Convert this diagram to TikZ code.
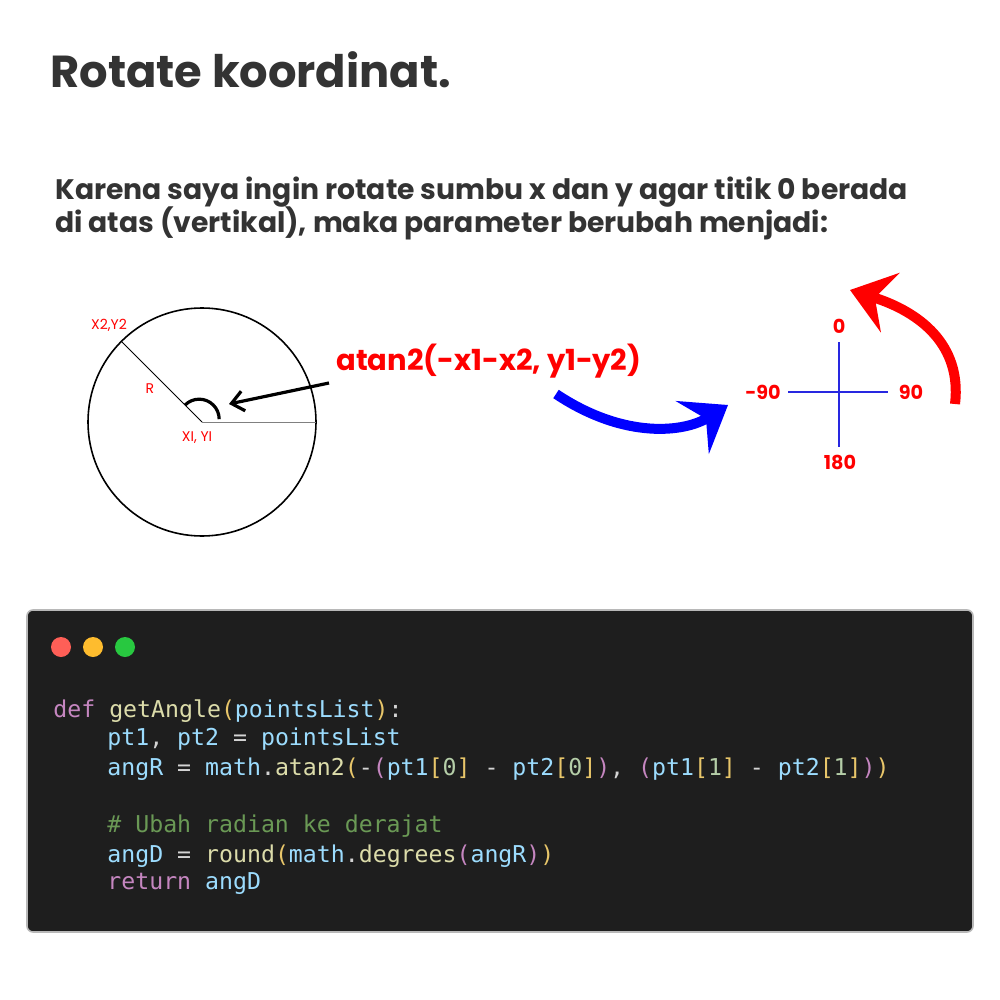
\documentclass[tikz,border=0pt]{standalone}
\usepackage{fontspec}
\setmainfont{Poppins}
\setmonofont{DejaVu Sans Mono}
\usetikzlibrary{positioning}
\usetikzlibrary{arrows.meta}
\usetikzlibrary{calc}

\definecolor{inkgrey}{HTML}{333333}
\definecolor{codebg}{HTML}{1E1E1E}
\definecolor{codeframe}{HTML}{B8B8B8}
\definecolor{dotred}{HTML}{FF5F57}
\definecolor{dotyellow}{HTML}{FEBC2E}
\definecolor{dotgreen}{HTML}{28C840}
\definecolor{kwpink}{HTML}{C586C0}
\definecolor{fnyellow}{HTML}{DCDCAA}
\definecolor{brgold}{HTML}{E8C66A}
\definecolor{varblue}{HTML}{9CDCFE}
\definecolor{numgreen}{HTML}{B5CEA8}
\definecolor{comgreen}{HTML}{6A9955}
\definecolor{opwhite}{HTML}{D4D4D4}
\definecolor{axisblue}{HTML}{2828E0}

% colour helpers for the code listing
\newcommand{\ckw}[1]{\textcolor{kwpink}{#1}}
\newcommand{\cfn}[1]{\textcolor{fnyellow}{#1}}
\newcommand{\cbr}[1]{\textcolor{brgold}{#1}}
\newcommand{\cvar}[1]{\textcolor{varblue}{#1}}
\newcommand{\cnum}[1]{\textcolor{numgreen}{#1}}
\newcommand{\ccom}[1]{\textcolor{comgreen}{#1}}
\newcommand{\cop}[1]{\textcolor{opwhite}{#1}}

\begin{document}
\begin{tikzpicture}[x=0.5pt, y=-0.5pt,
        % Text styles
        heading/.style={font=\fontsize{22.4}{26}\selectfont\bfseries, text=inkgrey, anchor=base west, inner sep=0pt},
        subline/.style={font=\fontsize{14.1}{17}\selectfont\bfseries, text=inkgrey, anchor=base west, inner sep=0pt},
        redlabel/.style={font=\fontsize{7}{8}\selectfont, text=red, inner sep=0pt},
        axislabel/.style={font=\fontsize{9.6}{12}\selectfont\bfseries, text=red, inner sep=0pt},
        formula/.style={font=\fontsize{14.5}{17}\selectfont\bfseries, text=red, anchor=base west, inner sep=0pt},
        codeline/.style={font=\fontsize{11.6}{14}\ttfamily, text=opwhite, anchor=base west, inner sep=0pt},
        % Window dots
        windot/.style={circle, minimum size=10pt, inner sep=0pt},
        % Thick curved arrows
        bigarrow/.style={line width=5pt, -{Stealth[length=21pt, width=31pt, inset=8pt]}}
    ]
    \useasboundingbox[fill=white] (0,0) rectangle (1000,1000);

    % --- Title ---
    \node[heading] (title) at (50,88) {Rotate koordinat.};

    % --- Explanation ---
    \node[subline] (sub1) at (55,199) {Karena saya ingin rotate sumbu x dan y agar titik 0 berada};
    \node[subline] (sub2) at (55,233) {di atas (vertikal), maka parameter berubah menjadi:};

    % --- Circle with radius and angle ---
    \coordinate (ctr) at (202,422);
    \coordinate (rimright) at (316,422);
    \coordinate (rimpt) at ($(ctr)+(225:114)$);
    \draw[line width=0.8pt] (ctr) circle[radius=114];
    \draw[gray, line width=0.5pt] (ctr) -- (rimright);
    \draw[line width=0.4pt] (ctr) -- (rimpt);
    \draw[line width=1.6pt] ($(ctr)+(225:24)$) arc[start angle=225, end angle=360, radius=20];
    \coordinate (angletip) at (229,404);

    \node[redlabel] (p2lbl) at (109,325) {X2,Y2};
    \node[redlabel] (rlbl) at (150,389) {R};
    \node[redlabel] (p1lbl) at (197,438) {XI, YI};

    % --- Formula and pointer ---
    \node[formula] (atanlbl) at (336,370) {atan2(-x1-x2, y1\textminus y2)};
    \coordinate (pointtail) at (329,383);
    \draw[line width=1.6pt, -{Straight Barb[length=6pt, width=10pt]}] (pointtail) -- (angletip);

    % --- Blue arrow ---
    \coordinate (bluestart) at (556,394);
    \coordinate (blueend) at (728,405);
    \draw[blue, bigarrow] (bluestart) .. controls (625,440) and (685,432) .. (blueend);

    % --- Rotated axes ---
    \coordinate (axisO) at (839,392);
    \draw[axisblue, line width=1pt] (839,342) -- (839,447);
    \draw[axisblue, line width=1pt] (788,392) -- (888,392);
    \node[axislabel] (top0) at (839,326) {0};
    \node[axislabel] (leftneg) at (763,392) {-90};
    \node[axislabel] (rightpos) at (911,392) {90};
    \node[axislabel] (bottom180) at (840,462) {180};

    % --- Red arrow ---
    \coordinate (redstart) at (955,404);
    \coordinate (redend) at (850,290);
    \draw[red, bigarrow] (redstart) .. controls (962,345) and (920,312) .. (redend);

    % --- Code window ---
    \draw[codeframe, fill=codebg, line width=0.8pt, rounded corners=3pt] (27,610) rectangle (973,932);
    \foreach \dotcol/\dotx in {dotred/61, dotyellow/93, dotgreen/125}
        \node[windot, fill=\dotcol] (\dotcol) at (\dotx,647) {};

    \node[codeline] (code1) at (53,717) {\ckw{def} \cfn{getAngle}\cbr{(}\cvar{pointsList}\cbr{)}:};
    \node[codeline] (code2) at (107,745) {\cvar{pt1}, \cvar{pt2} = \cvar{pointsList}};
    \node[codeline] (code3) at (107,775) {\cvar{angR} = \cvar{math}.\cfn{atan2}\cbr{(}-\ckw{(}\cvar{pt1}\cbr{[}\cnum{0}\cbr{]} - \cvar{pt2}\cbr{[}\cnum{0}\cbr{]}\ckw{)}, \ckw{(}\cvar{pt1}\cbr{[}\cnum{1}\cbr{]} - \cvar{pt2}\cbr{[}\cnum{1}\cbr{]}\ckw{)}\cbr{)}};
    \node[codeline] (code4) at (107,832) {\ccom{\# Ubah radian ke derajat}};
    \node[codeline] (code5) at (107,862) {\cvar{angD} = \cfn{round}\cbr{(}\cvar{math}.\cfn{degrees}\ckw{(}\cvar{angR}\ckw{)}\cbr{)}};
    \node[codeline] (code6) at (107,889) {\ckw{return} \cvar{angD}};

\end{tikzpicture}
\end{document}
